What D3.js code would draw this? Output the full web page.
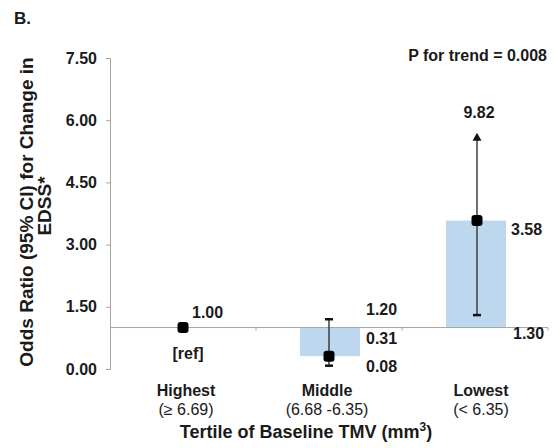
<!DOCTYPE html>
<html lang="en">
<head>
    <meta charset="utf-8">
    <title>Odds ratio by tertile of baseline TMV</title>
    <script src="https://d3js.org/d3.v7.min.js"></script>
    <style>
        body { margin: 0; background: #fff; }
        #chart text { font-family: "Liberation Sans", Arial, sans-serif; fill: #1a1a1a; }
    </style>
</head>
<body>

<div id="chart"></div>

<script>

// data
var categories = ["Highest", "Middle", "Lowest"];
var ranges = ["(\u2265 6.69)", "(6.68 -6.35)", "(< 6.35)"];
var oddsRatio = [1.00, 0.31, 3.58];
var ciLower = [null, 0.08, 1.30];
var ciUpper = [null, 1.20, 9.82];
var arrowEnd = [null, null, 5.70];   // upper CI is cut off and drawn as an arrow
var yTicks = [0, 1.5, 3, 4.5, 6, 7.5];
var refValue = 1.00;

var width = 555, height = 448;

var svg = d3.select("#chart")
  .append("svg")
    .attr("width", width)
    .attr("height", height);

var y = d3.scaleLinear()
    .domain([0, 7.5])
    .range([369, 58]);

var x = d3.scaleBand()
    .domain(categories)
    .range([110, 548])
    .padding(0);

var barW = 60;
var axisColor = "#a6a6a6";

// panel letter
svg.append("text")
    .attr("x", 14).attr("y", 24)
    .style("font-size", "17px").style("font-weight", "bold")
    .text("B.");

// y axis
var yAxis = d3.axisLeft(y)
    .tickValues(yTicks)
    .tickSize(4)
    .tickFormat(d3.format(".2f"));

var gy = svg.append("g")
    .attr("transform", "translate(110,0)")
    .call(yAxis);
gy.select(".domain").attr("stroke", axisColor);
gy.selectAll(".tick line").attr("stroke", axisColor);
gy.selectAll(".tick text")
    .attr("x", -13)
    .style("font-size", "16px")
    .style("font-weight", "bold");

// bars from the reference line to the odds ratio
svg.selectAll("rect.bar")
    .data(categories)
    .enter()
    .append("rect")
      .attr("class", "bar")
      .attr("x", function(d) { return x(d) + x.bandwidth() / 2 - barW / 2 + 1; })
      .attr("width", barW)
      .attr("y", function(d, i) { return y(Math.max(oddsRatio[i], refValue)); })
      .attr("height", function(d, i) { return Math.abs(y(oddsRatio[i]) - y(refValue)); })
      .style("fill", "#bdd7ee");

// reference line (category axis at OR = 1)
var xAxis = d3.axisBottom(x).tickSize(3).tickFormat("");
var gx = svg.append("g")
    .attr("transform", "translate(0," + y(refValue) + ")")
    .call(xAxis);
gx.select(".domain").attr("stroke", axisColor).attr("d", "M110,0H548V3");
gx.selectAll(".tick line").attr("stroke", axisColor)
    .attr("transform", "translate(" + (x.bandwidth() / 2) + ",0)");
gx.selectAll(".tick").filter(function(d, i) { return i === categories.length - 1; }).remove();

// error bars
var cx = function(i) { return x(categories[i]) + x.bandwidth() / 2 + (i === 2 ? 2 : 0); };

categories.forEach(function(c, i) {
    if (ciLower[i] == null) return;
    var top = arrowEnd[i] != null ? arrowEnd[i] : ciUpper[i];
    var topY = y(top) + (arrowEnd[i] != null ? 6 : 0);
    svg.append("line")
        .attr("x1", cx(i)).attr("x2", cx(i))
        .attr("y1", y(ciLower[i])).attr("y2", topY)
        .attr("stroke", "#333").attr("stroke-width", 1.4);
    svg.append("line")
        .attr("x1", cx(i) - 4).attr("x2", cx(i) + 4)
        .attr("y1", y(ciLower[i])).attr("y2", y(ciLower[i]))
        .attr("stroke", "#111").attr("stroke-width", 2.5);
    if (arrowEnd[i] != null) {
        var ty = y(top);
        svg.append("path")
            .attr("d", "M" + cx(i) + "," + ty + "L" + (cx(i) + 4.5) + "," + (ty + 8) + "L" + (cx(i) - 4.5) + "," + (ty + 8) + "Z")
            .style("fill", "#111");
    } else {
        svg.append("line")
            .attr("x1", cx(i) - 4).attr("x2", cx(i) + 4)
            .attr("y1", y(ciUpper[i])).attr("y2", y(ciUpper[i]))
            .attr("stroke", "#111").attr("stroke-width", 2.5);
    }
});

// point estimates
svg.selectAll("rect.pt")
    .data(categories)
    .enter()
    .append("rect")
      .attr("class", "pt")
      .attr("x", function(d, i) { return cx(i) - 5.5; })
      .attr("y", function(d, i) { return y(oddsRatio[i]) - 5.5; })
      .attr("width", 11).attr("height", 11)
      .attr("rx", 3)
      .style("fill", "#000");

// value labels (placement as in the figure)
var labels = [
    {i: 0, text: d3.format(".2f")(oddsRatio[0]), v: oddsRatio[0], dx: 9, dy: -10, anchor: "start"},
    {i: 0, text: "[ref]", v: refValue, dx: 5, dy: 31, anchor: "middle"},
    {i: 1, text: d3.format(".2f")(ciUpper[1]), v: ciUpper[1], dx: 37, dy: -4, anchor: "start"},
    {i: 1, text: d3.format(".2f")(oddsRatio[1]), v: oddsRatio[1], dx: 37, dy: -12, anchor: "start"},
    {i: 1, text: d3.format(".2f")(ciLower[1]), v: ciLower[1], dx: 37, dy: 6, anchor: "start"},
    {i: 2, text: d3.format(".2f")(oddsRatio[2]), v: oddsRatio[2], dx: 34, dy: 14, anchor: "start"},
    {i: 2, text: d3.format(".2f")(ciLower[2]), v: ciLower[2], dx: 36, dy: 24, anchor: "start"},
    {i: 2, text: d3.format(".2f")(ciUpper[2]), v: arrowEnd[2], dx: 2, dy: -15, anchor: "middle"}
];

svg.selectAll("text.val")
    .data(labels)
    .enter()
    .append("text")
      .attr("class", "val")
      .attr("x", function(d) { return cx(d.i) + d.dx; })
      .attr("y", function(d) { return y(d.v) + d.dy; })
      .attr("text-anchor", function(d) { return d.anchor; })
      .style("font-size", "16px")
      .style("font-weight", "bold")
      .text(function(d) { return d.text; });

// category labels
var labelShift = [3, -2, 4];
svg.selectAll("text.cat")
    .data(categories)
    .enter()
    .append("text")
      .attr("class", "cat")
      .attr("x", function(d, i) { return cx(i) + labelShift[i]; })
      .attr("y", 396)
      .attr("text-anchor", "middle")
      .style("font-size", "16px")
      .style("font-weight", "bold")
      .text(function(d) { return d; });

svg.selectAll("text.rng")
    .data(ranges)
    .enter()
    .append("text")
      .attr("class", "rng")
      .attr("x", function(d, i) { return cx(i) + labelShift[i]; })
      .attr("y", 415)
      .attr("text-anchor", "middle")
      .style("font-size", "16px")
      .text(function(d) { return d; });

// axis titles
var xt = svg.append("text")
    .attr("x", 306).attr("y", 438)
    .attr("text-anchor", "middle")
    .style("font-size", "18px")
    .style("font-weight", "bold")
    .text("Tertile of Baseline TMV (mm");
xt.append("tspan").attr("dy", -7).style("font-size", "12px").text("3");
xt.append("tspan").attr("dy", 7).text(")");

var yt = svg.append("text")
    .attr("transform", "translate(33,0)rotate(-90)")
    .attr("text-anchor", "middle")
    .style("font-size", "19px")
    .style("font-weight", "bold");
yt.append("tspan").attr("x", -212).attr("y", 0).text("Odds Ratio (95% CI) for Change in");
yt.append("tspan").attr("x", -206).attr("y", 18).text("EDSS*");

svg.append("text")
    .attr("x", 547).attr("y", 61)
    .attr("text-anchor", "end")
    .style("font-size", "16px")
    .style("font-weight", "bold")
    .text("P for trend = 0.008");

</script>
</body>
</html>
